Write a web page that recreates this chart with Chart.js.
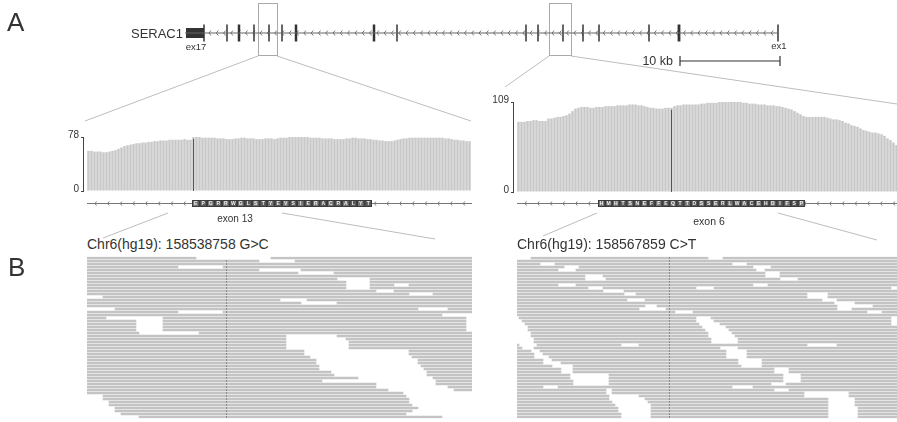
<!DOCTYPE html>
<html>
<head>
<meta charset="utf-8">
<title>SERAC1 coverage and reads</title>
<script src="https://cdn.jsdelivr.net/npm/chart.js@4.4.1/dist/chart.umd.min.js"></script>
<style>
  body { margin: 0; background: #fff; }
  #fig { position: relative; width: 897px; height: 422px; overflow: hidden;
         font-family: "Liberation Sans", Arial, sans-serif; color: #333; }
  #fig canvas { position: absolute; }
  .lbl { position: absolute; white-space: nowrap; line-height: 1; transform: translateY(-50%); }
  .mid { transform: translate(-50%, -50%); }
</style>
</head>
<body>
<div id="fig">
  <svg width="897" height="422" style="position:absolute;left:0;top:0" stroke="#bdbdbd" stroke-width="1">
    <line x1="258" y1="56" x2="85" y2="121"/>
    <line x1="277" y1="56" x2="471" y2="121"/>
    <line x1="549" y1="56" x2="505" y2="87"/>
    <line x1="571" y1="56" x2="897" y2="104"/>
    <line x1="168" y1="213" x2="103" y2="238"/>
    <line x1="282" y1="213" x2="435" y2="239"/>
    <line x1="597" y1="213" x2="543" y2="236"/>
    <line x1="778" y1="213" x2="877" y2="240"/>
  </svg>

  <canvas id="geneTrack" width="897" height="75" style="left:0;top:0"></canvas>
  <canvas id="covExon13" width="412" height="100" style="left:60px;top:125px"></canvas>
  <canvas id="covExon6" width="407" height="135" style="left:490px;top:90px"></canvas>
  <canvas id="readsExon13" width="385" height="163" style="left:87px;top:256px"></canvas>
  <canvas id="readsExon6" width="380" height="163" style="left:517px;top:256px"></canvas>

  <div class="lbl" style="left:7px;top:22px;font-size:26px">A</div>
  <div class="lbl" style="left:8px;top:267px;font-size:26px">B</div>
  <div class="lbl" style="right:714px;top:33px;font-size:13px">SERAC1</div>
  <div class="lbl mid" style="left:196px;top:47px;font-size:9.5px">ex17</div>
  <div class="lbl mid" style="left:779px;top:46px;font-size:9.5px">ex1</div>
  <div class="lbl" style="right:224px;top:61px;font-size:12.5px">10 kb</div>
  <div class="lbl mid" style="left:235px;top:219px;font-size:10px">exon 13</div>
  <div class="lbl mid" style="left:709px;top:221px;font-size:10.5px">exon 6</div>
  <div class="lbl" style="left:87px;top:244px;font-size:14px">Chr6(hg19): 158538758 G&gt;C</div>
  <div class="lbl" style="left:517px;top:244px;font-size:14px">Chr6(hg19): 158567859 C&gt;T</div>
</div>

<script>
// gene model, kb from the 3' end (ex17) of SERAC1
const geneSpanKb = [0, 59.3];
const utrBlockKb = [0.1, 1.9];
const exonKb = [1.9, 4.2, 5.4, 6.9, 8.4, 9.7, 11.1, 18.9, 21.2, 34.1, 35.3, 37.8, 39.8, 41.4, 46.4, 49.4, 59.3];
const exonWidthPx = [1.5, 1.5, 2.5, 1.5, 1.5, 1.5, 2.5, 2.5, 1.5, 1.5, 1.5, 1.5, 1.5, 1.5, 1.5, 2.8, 1.5];
const zoomWindowsKb = [[7.3, 9.2], [36.4, 38.6]];
const scaleBarKb = [49.5, 59.5];

// coverage per bp across the two zoomed windows
const coverageExon13 = [
  58, 58, 57, 57, 57, 56, 56, 57, 58, 59, 61, 63, 65, 66, 67, 68, 69, 69, 70, 70,
  71, 71, 72, 72, 73, 73, 73, 74, 74, 74, 74, 74, 75, 74, 74, 78, 78, 78, 77, 77,
  77, 77, 77, 76, 76, 76, 75, 75, 75, 76, 76, 77, 77, 76, 76, 76, 75, 75, 75, 76,
  76, 76, 75, 76, 77, 77, 77, 78, 78, 78, 78, 78, 78, 78, 77, 77, 77, 77, 76, 76,
  76, 76, 75, 75, 75, 75, 76, 76, 77, 77, 76, 76, 76, 75, 75, 74, 74, 73, 73, 72,
  72, 72, 73, 74, 75, 76, 76, 77, 77, 77, 77, 77, 77, 77, 77, 77, 77, 77, 77, 76,
  76, 75, 74, 74, 73, 73, 72, 72
];
const coverageExon6 = [
  85, 85, 85, 86, 86, 87, 87, 86, 86, 86, 89, 89, 90, 91, 91, 92, 93, 95, 98, 101,
  102, 103, 103, 103, 102, 102, 103, 103, 103, 104, 104, 104, 104, 105, 105, 105, 105, 106, 106, 106,
  105, 105, 104, 103, 102, 102, 101, 101, 101, 102, 102, 102, 104, 105, 105, 106, 106, 106, 106, 106,
  106, 107, 107, 108, 108, 108, 108, 109, 109, 109, 109, 109, 109, 109, 109, 108, 108, 107, 107, 107,
  106, 106, 106, 105, 105, 105, 104, 104, 103, 102, 101, 100, 98, 96, 94, 92, 91, 91, 91, 91,
  91, 91, 91, 90, 89, 88, 88, 87, 86, 84, 83, 81, 80, 79, 77, 75, 74, 73, 72, 72,
  71, 70, 68, 65, 63, 60, 57
];
const coverageMax = [78, 109];
const variantIndex = [35, 51];
const exon13Range = [35, 94];
const exon6Range = [27, 95];
const aminoAcidsExon13 = 'EPGRRWGLSTYEVSIERACRALYT';
const aminoAcidsExon6 = 'HMHTSNEFFEQTTDSSERLWACEHDIFSP';

// aligned reads, one row per line, [start, end] in bp from the variant
const readsExon13 = [
  [[-50, -10], [15, 85]], [[-50, 11], [23, 85]], [[-50, 85]], [[-50, -16], [-1, 85]],
  [[-50, 11], [25, 85]], [[-50, 24], [36, 85]], [[-50, 85]], [[-50, 37], [48, 85]],
  [[-50, 40], [48, 85]], [[-50, 40], [48, 56], [61, 85]], [[-50, 40], [48, 85]], [[-50, 50], [56, 85]],
  [[-50, 61], [69, 85]], [[-41, 85]], [[-50, 18], [27, 85]], [[-50, 25], [37, 85]],
  [[-50, 85]], [[-37, 64], [74, 85]], [[-50, -16], [-1, 85]], [[-50, 72]],
  [[-50, -40], [-21, 80]], [[-50, -30], [-21, 80]], [[-50, -30], [-21, 80]], [[-50, -30], [-21, 80]],
  [[-50, -30], [-21, 80]], [[-50, -29], [-9, 85]], [[-50, 20], [37, 85]], [[-50, 20], [40, 85]],
  [[-50, 20], [41, 85]], [[-50, 20], [41, 85]], [[-50, 20], [41, 85]], [[-50, 26], [61, 85]],
  [[-50, 26], [61, 85]], [[-50, 28], [62, 85]], [[-50, 30], [64, 85]], [[-50, 30], [64, 85]],
  [[-50, 31], [65, 85]], [[-50, 31], [66, 85]], [[-50, 35], [67, 85]], [[-50, 36], [67, 85]],
  [[-50, 44], [69, 85]], [[-50, 32], [70, 85]], [[-50, 50], [70, 85]], [[-50, 50], [74, 85]],
  [[-50, 54], [76, 85]], [[-50, 59]], [[-41, 60]], [[-41, 61]],
  [[-39, 61]], [[-39, 62]], [[-37, 64]], [[-37, 62]],
  [[-35, 60]], [[-29, 72]]
];
const readsExon6 = [
  [[-46, 13], [18, 80]], [[-55, 80]], [[-55, -43], [-38, 21], [26, 80]], [[-55, -35], [-30, 28], [34, 80]],
  [[-55, -37], [-31, 29], [32, 80]], [[-55, 32], [37, 80]], [[-55, -28], [-22, 32], [37, 80]], [[-55, -28], [-21, 37], [43, 80]],
  [[-55, 80]], [[-55, -37], [-31, 28], [33, 80]], [[-55, -27], [-22, 9], [15, 74]], [[-55, -22], [-15, 80]],
  [[-55, -15], [-11, 46], [53, 80]], [[-55, 46], [53, 80]], [[-55, -14], [-8, 51], [56, 80]], [[-55, 55], [62, 80]],
  [[-55, -8], [-4, 56], [68, 80]], [[-55, -10], [-1, 56], [61, 80]], [[-55, 2], [8, 66], [71, 80]], [[-55, 80]],
  [[-50, 9], [14, 74]], [[-49, 9], [15, 74]], [[-48, 10], [17, 74]], [[-47, 11], [19, 80]],
  [[-47, 12], [20, 80]], [[-46, 13], [21, 80]], [[-46, 13], [22, 80]], [[-45, 14], [23, 80]],
  [[-45, 14], [23, 80]], [[-55, -50], [-44, -16], [-10, 46], [56, 80]], [[-55, -49], [-45, 17], [23, 80]], [[-55, -46], [-43, 19], [26, 80]],
  [[-55, -45], [-42, 19], [26, 80]], [[-55, -45], [-40, 19], [26, 80]], [[-55, -42], [-39, 23], [31, 80]], [[-55, -42], [-36, 23], [31, 80]],
  [[-55, -39], [-32, 24], [31, 80]], [[-55, -36], [-32, 35], [40, 80]], [[-55, -36], [-32, 35], [40, 80]], [[-55, -33], [-20, 38], [44, 80]],
  [[-55, -33], [-20, 38], [44, 80]], [[-55, -32], [-20, 38], [44, 80]], [[-55, -32], [-20, 34], [39, 80]], [[-55, -42], [-37, 21], [28, 80]],
  [[-55, -21], [-19, 35], [40, 80]], [[-55, -21], [-19, 45], [60, 80]], [[-55, -20], [-10, 45], [60, 80]], [[-55, -20], [-8, 53], [62, 80]],
  [[-55, -19], [-7, 53], [62, 80]], [[-55, -18], [-6, 53], [62, 80]], [[-55, -17], [-6, 53], [63, 80]], [[-55, -17], [-6, 53], [63, 80]],
  [[-55, -16], [-6, 53], [63, 80]], [[-55, -16], [-6, 53], [63, 80]]
];

Chart.defaults.font.family = '"Liberation Sans", Arial, sans-serif';
Chart.defaults.color = '#333';

const quiet = { legend: { display: false }, tooltip: { enabled: false } };

/* ---------- gene model ---------- */
const geneDecor = {
  id: 'geneDecor',
  beforeDatasetsDraw(chart, args, opts) {
    const { ctx, scales: { x, y } } = chart;
    const yy = y.getPixelForValue(opts.track);
    const x0 = x.getPixelForValue(opts.from), x1 = x.getPixelForValue(opts.to);
    ctx.save();
    ctx.strokeStyle = '#777';
    ctx.lineWidth = 1;
    ctx.beginPath();
    for (let p = x0 + 5; p < x1 - 3; p += 7.3) {
      ctx.moveTo(p + 2, yy - 2.5);
      ctx.lineTo(p, yy);
      ctx.lineTo(p + 2, yy + 2.5);
    }
    ctx.stroke();
    ctx.strokeStyle = '#aaa';
    opts.windows.forEach(([a, b]) => {
      const xa = Math.round(x.getPixelForValue(a)) + 0.5;
      const xb = Math.round(x.getPixelForValue(b)) + 0.5;
      const ya = y.getPixelForValue(opts.boxTop) + 0.5;
      const yb = y.getPixelForValue(opts.boxBottom) + 0.5;
      ctx.strokeRect(xa, ya, xb - xa, yb - ya);
    });
    ctx.restore();
  }
};

const GENE_Y = 33, SCALE_Y = 61;
new Chart(document.getElementById('geneTrack'), {
  type: 'scatter',
  data: {
    datasets: [
      { data: geneSpanKb.map(k => ({ x: k, y: GENE_Y })), showLine: true, borderColor: '#666',
        borderWidth: 1.2, pointRadius: 0 },
      { data: utrBlockKb.map(k => ({ x: k, y: GENE_Y })), showLine: true, borderColor: '#333',
        borderWidth: 10, borderCapStyle: 'butt', pointRadius: 0 },
      { data: exonKb.map(k => ({ x: k, y: GENE_Y })), pointStyle: 'line', pointRotation: 90,
        pointRadius: 8.5, pointBorderWidth: exonWidthPx, pointBorderColor: '#333' },
      { data: scaleBarKb.map(k => ({ x: k, y: SCALE_Y })), showLine: true, borderColor: '#333',
        borderWidth: 1.2, pointStyle: 'line', pointRotation: 90, pointRadius: 5,
        pointBorderWidth: 1.2, pointBorderColor: '#333' }
    ]
  },
  options: {
    responsive: false, animation: false, events: [],
    layout: { padding: 0, autoPadding: false },
    scales: {
      x: { type: 'linear', min: -18.5, max: 71.2, display: false },
      y: { type: 'linear', min: 0, max: 75, reverse: true, display: false }
    },
    plugins: Object.assign({
      geneDecor: { track: GENE_Y, from: utrBlockKb[1], to: geneSpanKb[1], windows: zoomWindowsKb,
                   boxTop: 3, boxBottom: 55 }
    }, quiet)
  },
  plugins: [geneDecor]
});

/* ---------- coverage + exon track ---------- */
const exonTrack = {
  id: 'exonTrack',
  afterDraw(chart, args, opts) {
    const { ctx, chartArea, scales: { x, y } } = chart;
    ctx.save();
    // variant column
    const vx = Math.round(x.getPixelForValue(opts.variant)) + 0.5;
    ctx.strokeStyle = '#555';
    ctx.lineWidth = 1;
    ctx.beginPath();
    ctx.moveTo(vx, y.getPixelForValue(0));
    ctx.lineTo(vx, y.getPixelForValue(opts.values[opts.variant]) + 2);
    ctx.stroke();
    // transcript line with strand arrows
    const ty = Math.round(chartArea.bottom + opts.gap) + 0.5;
    const x0 = x.getPixelForValue(-0.5), x1 = chartArea.right;
    ctx.strokeStyle = '#777';
    ctx.beginPath();
    ctx.moveTo(x0, ty);
    ctx.lineTo(x1, ty);
    for (let p = x0 + 8; p < x1 - 3; p += 12.7) {
      ctx.moveTo(p + 1.5, ty - 2);
      ctx.lineTo(p, ty);
      ctx.lineTo(p + 1.5, ty + 2);
    }
    ctx.stroke();
    // exon block with amino acids
    const bx0 = x.getPixelForValue(opts.exon[0] - 0.5);
    const bx1 = x.getPixelForValue(opts.exon[1] + 0.5);
    ctx.fillStyle = '#3c3c3c';
    ctx.fillRect(bx0, ty - 3.5, bx1 - bx0, 7);
    const cw = (bx1 - bx0) / opts.aa.length;
    ctx.font = 'bold 5px "Liberation Sans", Arial, sans-serif';
    ctx.textAlign = 'center';
    ctx.textBaseline = 'middle';
    opts.aa.split('').forEach((c, k) => {
      ctx.fillStyle = k % 2 ? '#5c5c5c' : '#777';
      ctx.fillRect(bx0 + k * cw + 1, ty - 2.5, cw - 2, 5);
      ctx.fillStyle = '#eee';
      ctx.fillText(c, bx0 + (k + 0.5) * cw, ty + 0.3);
    });
    ctx.restore();
  }
};

function coverageChart(id, values, max, xMax, padBottom, gap, variant, exon, aa) {
  return new Chart(document.getElementById(id), {
    type: 'bar',
    data: {
      datasets: [{
        data: values.map((v, i) => ({ x: i, y: v })),
        backgroundColor: '#c8c8c8',
        barPercentage: 0.82, categoryPercentage: 1
      }]
    },
    options: {
      responsive: false, animation: false, events: [],
      layout: { padding: { top: 12, bottom: padBottom, left: 0, right: 0 }, autoPadding: false },
      scales: {
        x: { type: 'linear', min: -1.83, max: xMax, offset: false, display: false },
        y: {
          min: 0, max: max,
          afterBuildTicks: axis => { axis.ticks = [{ value: 0 }, { value: max }]; },
          afterFit: axis => { axis.width = 23; },
          ticks: { font: { size: 10 }, color: '#333', padding: 2, labelOffset: -2 },
          grid: { display: true, drawOnChartArea: false, tickLength: 2, color: '#444' },
          border: { display: true, color: '#444', width: 1 }
        }
      },
      plugins: Object.assign({
        exonTrack: { gap, variant, values, exon, aa }
      }, quiet)
    },
    plugins: [exonTrack]
  });
}

coverageChart('covExon13', coverageExon13, coverageMax[0], 127.83, 34, 12,
              variantIndex[0], exon13Range, aminoAcidsExon13);
coverageChart('covExon6', coverageExon6, coverageMax[1], 126.17, 33, 11,
              variantIndex[1], exon6Range, aminoAcidsExon6);

/* ---------- aligned reads ---------- */
const variantMarks = {
  id: 'variantMarks',
  afterDatasetsDraw(chart) {
    const { ctx, scales: { x, y } } = chart;
    const vx = Math.round(x.getPixelForValue(0));
    const rows = chart.config.data.rows;
    ctx.save();
    ctx.fillStyle = '#8c8c8c';
    rows.forEach((r, i) => {
      if (r.some(([s, e]) => s <= 0 && e >= 0)) {
        ctx.fillRect(vx, y.getPixelForValue(i) - 1, 1, 2);
      }
    });
    ctx.restore();
  }
};

function readsChart(id, rows, min, max) {
  const depth = Math.max(...rows.map(r => r.length));
  const datasets = [];
  for (let k = 0; k < depth; k++) {
    datasets.push({
      data: rows.map(r => r[k] || null),
      backgroundColor: '#c4c4c4',
      barThickness: 2,
      grouped: false
    });
  }
  return new Chart(document.getElementById(id), {
    type: 'bar',
    data: { labels: rows.map((r, i) => i), datasets, rows },
    options: {
      indexAxis: 'y',
      responsive: false, animation: false, events: [],
      layout: { padding: { top: 0.5, bottom: 0.5, left: 0, right: 0 }, autoPadding: false },
      scales: {
        x: { type: 'linear', min, max, display: false },
        y: { display: false }
      },
      plugins: quiet
    },
    plugins: [variantMarks]
  });
}

readsChart('readsExon13', readsExon13, -46.33, 82);
readsChart('readsExon6', readsExon6, -50.67, 76);
</script>
</body>
</html>
